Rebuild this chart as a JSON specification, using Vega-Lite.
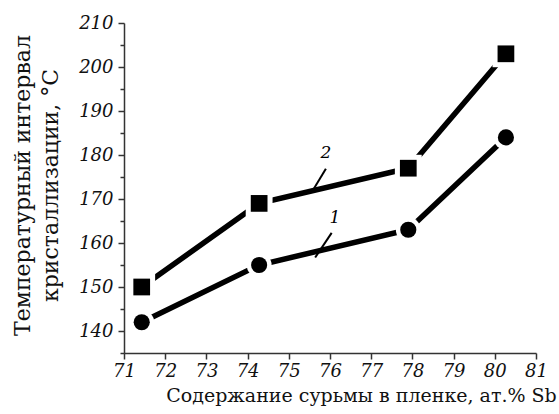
{
  "$schema": "https://vega.github.io/schema/vega-lite/v6.json",
  "autosize": {"type": "none"},
  "width": 412,
  "height": 330,
  "padding": {"left": 124, "top": 23, "right": 23, "bottom": 61},
  "background": "white",
  "datasets": {
    "pts": [
      {"series": "1", "sb": 71.43, "t": 142},
      {"series": "1", "sb": 74.28, "t": 155},
      {"series": "1", "sb": 77.9, "t": 163},
      {"series": "1", "sb": 80.27, "t": 184},
      {"series": "2", "sb": 71.43, "t": 150},
      {"series": "2", "sb": 74.28, "t": 169},
      {"series": "2", "sb": 77.9, "t": 177},
      {"series": "2", "sb": 80.27, "t": 203}
    ],
    "ann": [
      {"label": "1", "lx": 76.12, "ly": 165.6, "ax": 76.04, "ay": 162.3, "bx": 75.64, "by": 156.7},
      {"label": "2", "lx": 75.9, "ly": 180.5, "ax": 75.9, "ay": 176.9, "bx": 75.6, "by": 172.2}
    ]
  },
  "config": {
    "view": {"stroke": null},
    "axis": {
      "domainColor": "#333",
      "domainWidth": 1.5,
      "tickColor": "#333",
      "tickWidth": 1.5,
      "grid": false,
      "labelFont": "DejaVu Serif",
      "labelFontStyle": "italic",
      "labelFontSize": 18,
      "labelColor": "#111",
      "labelOverlap": false,
      "labelBound": false,
      "labelFlush": false,
      "titleFont": "DejaVu Serif",
      "titleFontWeight": "normal",
      "titleColor": "#111"
    }
  },
  "resolve": {"scale": {"size": "independent"}},
  "layer": [
    {
      "data": {"name": "pts"},
      "mark": {"type": "line", "strokeWidth": 5.5, "color": "black"},
      "encoding": {
        "x": {
          "field": "sb", "type": "quantitative",
          "scale": {"domain": [71, 81], "nice": false, "zero": false},
          "axis": {
            "title": "Содержание сурьмы в пленке, ат.% Sb",
            "titleFontSize": 19,
            "tickCount": 100,
            "format": "d",
            "values": [71, 71.5, 72, 72.5, 73, 73.5, 74, 74.5, 75, 75.5, 76, 76.5, 77, 77.5, 78, 78.5, 79, 79.5, 80, 80.5, 81],
            "labelExpr": "datum.value % 1 === 0 ? datum.label : ''",
            "tickSize": {"condition": {"test": "datum.value % 1 !== 0", "value": 4}, "value": 6},
            "labelPadding": 3,
            "titleX": 237,
            "titleY": 33,
            "titleAlign": "center",
            "titleBaseline": "top"
          }
        },
        "y": {
          "field": "t", "type": "quantitative",
          "scale": {"domain": [135, 210], "nice": false, "zero": false},
          "axis": {
            "title": ["Температурный интервал", "кристаллизации, °С"],
            "titleFontSize": 22,
            "tickCount": 100,
            "format": "d",
            "values": [135, 140, 145, 150, 155, 160, 165, 170, 175, 180, 185, 190, 195, 200, 205, 210],
            "labelExpr": "(datum.value % 10 == 0) ? datum.label : ''",
            "tickSize": {"condition": {"test": "datum.value % 10 != 0", "value": 4}, "value": 6},
            "labelPadding": 5,
            "titleX": -112,
            "titleY": 162,
            "titleAngle": -90,
            "titleAlign": "center",
            "titleBaseline": "top",
            "titleLineHeight": 28
          }
        },
        "detail": {"field": "series"}
      }
    },
    {
      "data": {"name": "pts"},
      "mark": {"type": "point", "filled": true, "color": "white", "opacity": 1},
      "encoding": {
        "x": {"field": "sb", "type": "quantitative"},
        "y": {"field": "t", "type": "quantitative"},
        "shape": {"field": "series", "scale": {"domain": ["1", "2"], "range": ["circle", "square"]}, "legend": null},
        "size": {"field": "series", "type": "nominal", "scale": {"domain": ["1", "2"], "range": [620, 720]}, "legend": null}
      }
    },
    {
      "data": {"name": "pts"},
      "mark": {"type": "point", "filled": true, "color": "black", "opacity": 1},
      "encoding": {
        "x": {"field": "sb", "type": "quantitative"},
        "y": {"field": "t", "type": "quantitative"},
        "shape": {"field": "series", "scale": {"domain": ["1", "2"], "range": ["circle", "square"]}, "legend": null},
        "size": {"field": "series", "type": "nominal", "scale": {"domain": ["1", "2"], "range": [260, 280]}, "legend": null}
      }
    },
    {
      "data": {"name": "ann"},
      "mark": {"type": "rule", "strokeWidth": 2, "color": "black"},
      "encoding": {
        "x": {"field": "ax", "type": "quantitative"},
        "y": {"field": "ay", "type": "quantitative"},
        "x2": {"field": "bx"},
        "y2": {"field": "by"}
      }
    },
    {
      "data": {"name": "ann"},
      "mark": {"type": "text", "font": "DejaVu Serif", "fontStyle": "italic", "fontSize": 17, "color": "black"},
      "encoding": {
        "x": {"field": "lx", "type": "quantitative"},
        "y": {"field": "ly", "type": "quantitative"},
        "text": {"field": "label"}
      }
    }
  ]
}
